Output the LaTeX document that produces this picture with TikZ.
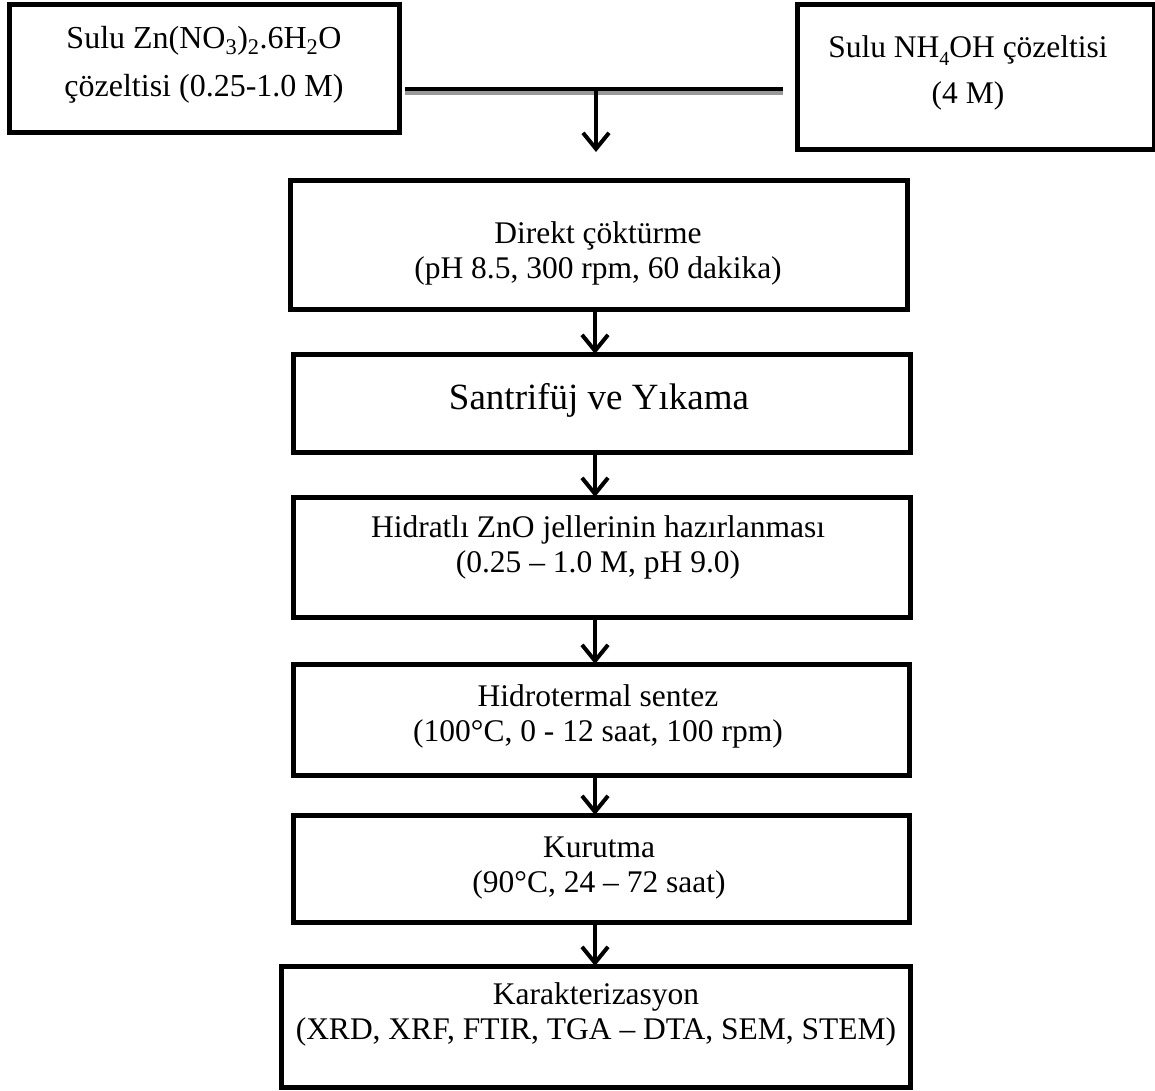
\documentclass[tikz,border=0pt]{standalone}
\usepackage{fontspec}
\setmainfont{Liberation Serif}
\usetikzlibrary{arrows.meta}
\begin{document}
\begin{tikzpicture}[x=1pt,y=-1pt,
  box/.style={draw=black, line width=5pt, inner sep=0pt, outer sep=0pt, rectangle},
  txt/.style={align=center, font=\fontsize{31.5}{35}\selectfont, inner sep=0pt},
  arr/.style={line width=4pt, -{Straight Barb[length=16pt,width=26pt,line width=4pt]}},
  bar/.style={line width=4.5pt, black},
  barshadow/.style={line width=4.5pt, black!40},
]
\useasboundingbox[fill=white] (0,0) rectangle (1155,1090);
% boxes
\node[box, minimum width=390pt, minimum height=128pt] (b1) at (204,68) {};
\node[box, minimum width=357pt, minimum height=145pt] (b2) at (975.5,76.5) {};
\node[box, minimum width=617pt, minimum height=129pt] (b3) at (598.5,244.5) {};
\node[box, minimum width=617pt, minimum height=98pt] (b4) at (601.5,403) {};
\node[box, minimum width=617pt, minimum height=120pt] (b5) at (601.5,557) {};
\node[box, minimum width=616pt, minimum height=111pt] (b6) at (601,719.5) {};
\node[box, minimum width=616pt, minimum height=107pt] (b7) at (601,868.5) {};
\node[box, minimum width=629pt, minimum height=121pt] (b8) at (595.5,1026.5) {};
% texts
\node[txt, font=\fontsize{32}{48}\selectfont] (t1) at (204,65) {Sulu Zn(NO\textsubscript{3})\textsubscript{2}.6H\textsubscript{2}O\\çözeltisi (0.25-1.0 M)};
\node[txt, font=\fontsize{31.5}{46}\selectfont] (t2) at (968,73) {Sulu NH\raisebox{-8pt}{\fontsize{20}{20}\selectfont 4}OH çözeltisi\\(4 M)};
\node[txt] (t3) at (598,253) {Direkt çöktürme\\(pH 8.5, 300 rpm, 60 dakika)};
\node[txt, font=\fontsize{37}{40}\selectfont] (t4) at (599,400) {Santrifüj ve Yıkama};
\node[txt] (t5) at (598,547) {Hidratlı ZnO jellerinin hazırlanması\\(0.25 – 1.0 M, pH 9.0)};
\node[txt] (t6) at (598,716) {Hidrotermal sentez\\(100°C, 0 - 12 saat, 100 rpm)};
\node[txt] (t7) at (599,868) {Kurutma\\(90°C, 24 – 72 saat)};
\node[txt] (t8) at (596,1014) {Karakterizasyon\\(XRD, XRF, FTIR, TGA – DTA, SEM, STEM)};
% joining bar
\coordinate (j) at (596,89);
\coordinate (ax) at (595,0);
\draw[barshadow] ([xshift=6pt,yshift=-3.5pt]b1.east |- j) -- ([xshift=-14pt,yshift=-3.5pt]b2.west |- j);
\draw[bar] ([xshift=6pt]b1.east |- j) -- ([xshift=-14pt]b2.west |- j);
% arrows
\draw[arr] (j) -- ([yshift=28pt]j |- b3.north);
\draw[arr] (b3.south -| ax) -- (b4.north -| ax);
\draw[arr] (b4.south -| ax) -- (b5.north -| ax);
\draw[arr] (b5.south -| ax) -- (b6.north -| ax);
\draw[arr] (b6.south -| ax) -- (b7.north -| ax);
\draw[arr] (b7.south -| ax) -- (b8.north -| ax);
\end{tikzpicture}
\end{document}
